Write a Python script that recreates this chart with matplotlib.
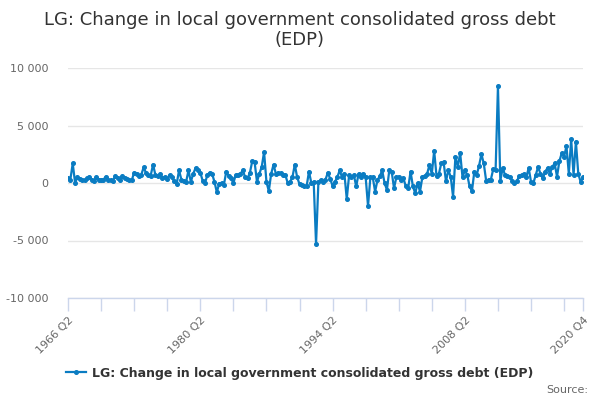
import matplotlib
matplotlib.use("Agg")
import matplotlib.pyplot as plt

# Quarterly change in LG consolidated gross debt (EDP), 1966 Q2 .. 2020 Q4 (£m)
first_year = 1966
first_quarter = 2
debt_change = [
    400, 300, 1700, 0, 500, 350, 300, 250, 400, 550,
    300, 200, 500, 300, 250, 300, 550, 300, 250, 200,
    600, 400, 300, 600, 450, 350, 300, 250, 900, 800,
    600, 700, 1350, 900, 700, 650, 1600, 700, 600, 800,
    400, 500, 350, 700, 500, 200, -100, 1100, 300, 200,
    100, 1100, 100, 800, 1300, 1100, 900, 200, 0, 700,
    900, 800, 100, -800, -50, 0, -150, 1000, 600, 400,
    0, 700, 700, 800, 1100, 500, 400, 900, 1900, 1800,
    100, 800, 1400, 2700, 100, -700, 800, 1600, 800, 900,
    850, 700, 700, 0, 100, 500, 1600, 500, -100, -200,
    -250, -300, 1000, 0, 100, -5300, 100, 250, 100, 300,
    900, 350, -250, 100, 500, 1100, 500, 800, -1400, 700,
    500, 700, -300, 800, 500, 800, 500, -2000, 500, 500,
    -750, 250, 600, 1100, 0, -600, 1100, 1000, -450, 500,
    550, 300, 400, -300, -450, 1000, -300, -900, 0, -750,
    500, 600, 800, 1550, 800, 2800, 600, 800, 1700, 1800,
    150, 1100, 550, -1200, 2300, 1400, 2600, 500, 1100, 700,
    -300, -700, 1000, 700, 1500, 2500, 1700, 200, 300, 300,
    1200, 1100, 8400, 200, 1300, 700, 600, 500, 200, 0,
    150, 600, 700, 750, 500, 1300, 100, 0, 700, 1400,
    800, 400, 1000, 1300, 800, 1400, 1700, 550, 1900, 2600,
    2300, 3200, 800, 3800, 700, 3600, 800, 100, 500,
]

quarters = []
y, q = first_year, first_quarter
for _ in debt_change:
    quarters.append(f"{y} Q{q}")
    q += 1
    if q > 4:
        q = 1
        y += 1

y_ticks = [-10000, -5000, 0, 5000, 10000]
y_tick_labels = ["-10 000", "-5 000", "0", "5 000", "10 000"]
labelled_quarters = ["1966 Q2", "1980 Q2", "1994 Q2", "2008 Q2", "2020 Q4"]

title = "LG: Change in local government consolidated gross debt\n(EDP)"
series_name = "LG: Change in local government consolidated gross debt (EDP)"

LINE_COLOR = "#0a7cc2"
GRID_COLOR = "#e6e6e6"
AXIS_COLOR = "#ccd6eb"
TEXT_COLOR = "#666666"

plt.rcParams["font.family"] = ["DejaVu Sans"]

fig = plt.figure(figsize=(6, 4), dpi=100)
ax = fig.add_axes([68 / 600, 1 - 298 / 400, (583 - 68) / 600, (298 - 68) / 400])

x = list(range(len(debt_change)))
line, = ax.plot(x, debt_change, color=LINE_COLOR, linewidth=1.6,
                marker="o", markersize=2.6, zorder=3)

ax.set_xlim(0, len(debt_change) - 1)
ax.set_ylim(-10000, 10000)

# y axis: gridlines only
ax.set_yticks(y_ticks)
ax.set_yticklabels(y_tick_labels, color=TEXT_COLOR, fontsize=8)
ax.yaxis.grid(True, color=GRID_COLOR, linewidth=1)
ax.tick_params(axis="y", length=0, pad=14)

# x axis: tick every 14 quarters plus the last one
tick_pos = list(range(0, len(debt_change), 14)) + [len(debt_change) - 1]
tick_lab = [quarters[i] if quarters[i] in labelled_quarters else "" for i in tick_pos]
ax.set_xticks(tick_pos)
ax.set_xticklabels(tick_lab, rotation=45, ha="right", rotation_mode="anchor",
                   color=TEXT_COLOR, fontsize=8)
ax.tick_params(axis="x", length=9, width=1, color=AXIS_COLOR, pad=3)

for side in ["left", "right", "top"]:
    ax.spines[side].set_visible(False)
ax.spines["bottom"].set_color(AXIS_COLOR)
ax.spines["bottom"].set_linewidth(1)
ax.set_axisbelow(True)

fig.text(0.5, 1 - 30 / 400, title, ha="center", va="center",
         fontsize=13, color="#333333", linespacing=1.2)

fig.legend([line], [series_name], loc="center", bbox_to_anchor=(0.5, 1 - 373 / 400),
           frameon=False, prop={"size": 9, "weight": "bold"}, handlelength=1.6,
           handletextpad=0.5, labelcolor="#333333")

fig.text(588 / 600, 1 - 390 / 400, "Source:", ha="right", va="center",
         fontsize=8, color=TEXT_COLOR)

fig.savefig("out.png", dpi=100)
